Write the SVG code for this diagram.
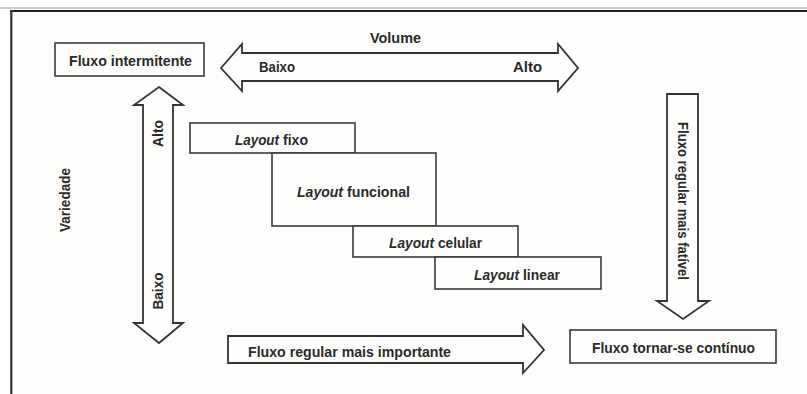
<svg xmlns="http://www.w3.org/2000/svg" width="807" height="394" viewBox="0 0 807 394">
<style>
.box{fill:#fefefd;stroke:#3a3a3a;stroke-width:1.6}
.arr{fill:#fefefd;stroke:#333;stroke-width:1.8;stroke-linejoin:miter}
.t{font-family:"Liberation Sans",Arial,sans-serif;font-weight:700;font-size:15px;fill:#2a2a2a}
.i{font-style:italic}
</style>
<rect x="0" y="0" width="807" height="394" fill="#ffffff"/>
<rect x="12" y="11" width="795" height="383" fill="#fdfdfb"/>
<line x1="0" y1="8" x2="807" y2="8" stroke="#cfcfcf" stroke-width="2"/>
<line x1="10" y1="11" x2="807" y2="11" stroke="#222" stroke-width="2.2"/>
<line x1="11.3" y1="10" x2="11.3" y2="394" stroke="#333" stroke-width="2.2"/>

<g id="connectors">
  <path id="volume-arrow" class="arr" d="M221,68 L242,44 L242,53 L558,53 L558,44 L578,68 L558,91 L558,81 L242,81 L242,91 Z"/>
  <path id="variedade-arrow" class="arr" d="M159,87 L183,105 L173,105 L173,323 L183,323 L159,343 L134,323 L143,323 L143,105 L134,105 Z"/>
  <path id="fatível-arrow" class="arr" d="M667,94 L698,94 L698,301 L709,301 L683,319 L657,301 L667,301 Z"/>
  <path id="importante-arrow" class="arr" d="M228,336 L523,336 L523,325 L544,350 L523,373 L523,363 L228,363 Z"/>
</g>

<g id="labels">
  <text class="t" x="395.5" y="43" text-anchor="middle" textLength="51" lengthAdjust="spacingAndGlyphs">Volume</text>
  <text class="t" x="259" y="72" textLength="36" lengthAdjust="spacingAndGlyphs">Baixo</text>
  <text class="t" x="513" y="72" textLength="29" lengthAdjust="spacingAndGlyphs">Alto</text>
  <text class="t" transform="translate(163,133.5) rotate(-90)" text-anchor="middle" textLength="27" lengthAdjust="spacingAndGlyphs">Alto</text>
  <text class="t" transform="translate(163,291) rotate(-90)" text-anchor="middle" textLength="37" lengthAdjust="spacingAndGlyphs">Baixo</text>
  <text class="t" transform="translate(70,200) rotate(-90)" text-anchor="middle" textLength="64" lengthAdjust="spacingAndGlyphs">Variedade</text>
  <text class="t" transform="translate(678,201) rotate(90)" text-anchor="middle" textLength="158" lengthAdjust="spacingAndGlyphs">Fluxo regular mais fatível</text>
  <text class="t" x="248" y="357" textLength="203" lengthAdjust="spacingAndGlyphs">Fluxo regular mais importante</text>
</g>

<g id="node-fluxo-intermitente">
  <rect class="box" x="55" y="43" width="149" height="33"/>
  <text class="t" x="69" y="66" textLength="123" lengthAdjust="spacingAndGlyphs">Fluxo intermitente</text>
</g>

<g id="node-layout-fixo">
  <rect class="box" x="190" y="123" width="165" height="30"/>
  <text class="t i" x="235" y="145" textLength="44" lengthAdjust="spacingAndGlyphs">Layout</text>
  <text class="t" x="283" y="145" textLength="25" lengthAdjust="spacingAndGlyphs">fixo</text>
</g>

<g id="node-layout-funcional">
  <rect class="box" x="272" y="153" width="164" height="73"/>
  <text class="t i" x="297" y="197" textLength="46" lengthAdjust="spacingAndGlyphs">Layout</text>
  <text class="t" x="347" y="197" textLength="63" lengthAdjust="spacingAndGlyphs">funcional</text>
</g>

<g id="node-layout-celular">
  <rect class="box" x="353" y="226" width="165" height="31"/>
  <text class="t i" x="389" y="248" textLength="45" lengthAdjust="spacingAndGlyphs">Layout</text>
  <text class="t" x="438" y="248" textLength="44" lengthAdjust="spacingAndGlyphs">celular</text>
</g>

<g id="node-layout-linear">
  <rect class="box" x="435" y="257" width="166" height="32"/>
  <text class="t i" x="474" y="280" textLength="45" lengthAdjust="spacingAndGlyphs">Layout</text>
  <text class="t" x="523" y="280" textLength="37" lengthAdjust="spacingAndGlyphs">linear</text>
</g>

<g id="node-fluxo-continuo">
  <rect class="box" x="570" y="330" width="206" height="33"/>
  <text class="t" x="592" y="353" textLength="163" lengthAdjust="spacingAndGlyphs">Fluxo tornar-se contínuo</text>
</g>
</svg>
